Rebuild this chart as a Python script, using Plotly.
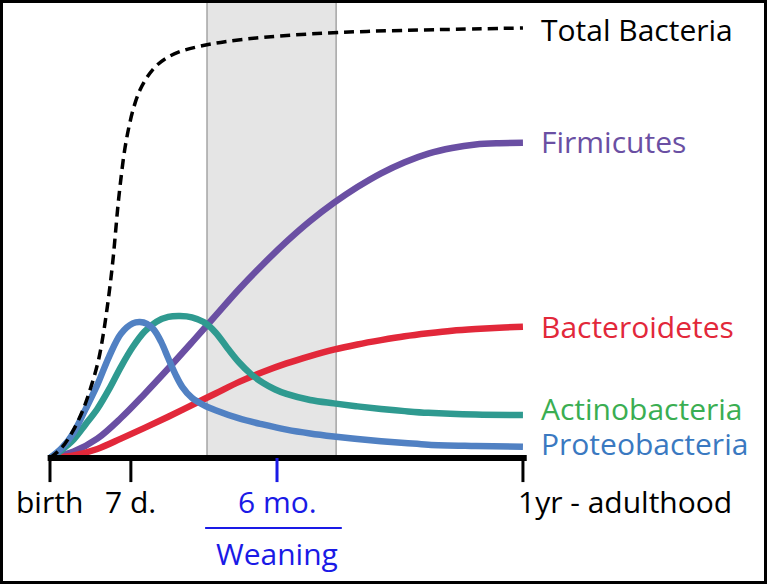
import plotly.graph_objects as go

# time axis: 0 = birth, 100 = 1yr - adulthood ; abundance: relative, total bacteria plateau = 100
time_total = [0, 2.5, 4.7, 6.9, 8.8, 10.3, 11.3, 12.1, 12.8, 13.4, 13.9, 14.4, 15.0, 15.7,
              16.6, 17.7, 19.0, 20.5, 22.3, 24.6, 27.5, 31.5, 37.0, 45.0, 55.0, 67.0, 82.0, 100]
total_bacteria = [0, 2.4, 6.0, 11.0, 17.0, 23.0, 29.0, 35.0, 41.0, 47.0, 53.0, 59.0, 65.0, 71.0,
                  76.5, 81.5, 85.5, 88.5, 91.0, 93.0, 94.5, 95.7, 96.8, 97.8, 98.6, 99.2, 99.6, 100]

time_firm = [0, 5, 10, 15, 20, 25, 30, 35, 40, 45, 50, 55, 60, 65, 70, 75, 80, 85, 90, 95, 100]
firmicutes = [0, 1.5, 4.5, 9.3, 14.9, 20.8, 26.9, 33.1, 39.3, 45.0, 50.3, 55.1, 59.3, 63.0,
              66.2, 68.8, 70.8, 72.1, 72.9, 73.2, 73.3]

time_bact = [0, 5, 10, 15, 20, 25, 30, 35, 40, 45, 50, 55, 60, 65, 70, 75, 80, 85, 90, 95, 100]
bacteroidetes = [0, 0.6, 2.1, 4.5, 7.0, 9.6, 12.3, 15.0, 17.7, 20.0, 22.0, 23.7, 25.2, 26.4,
                 27.4, 28.3, 29.0, 29.6, 30.0, 30.3, 30.5]

time_acti = [0, 2.5, 5, 7.5, 10, 12.5, 15, 17.5, 20, 22.5, 25, 27.5, 30, 32.5, 35, 37.5, 40,
             42.5, 45, 47.5, 50, 55, 60, 65, 70, 75, 80, 90, 100]
actinobacteria = [0, 1.9, 4.3, 7.8, 11.4, 16.0, 21.2, 25.8, 29.4, 31.7, 32.8, 33.0, 32.7, 31.6,
                  29.2, 25.6, 22.2, 19.5, 17.5, 16.0, 14.9, 13.5, 12.7, 12.0, 11.4, 10.9, 10.5,
                  10.1, 10.0]

time_prot = [0, 2.5, 5, 7.5, 10, 12.5, 15, 17.5, 19, 20.5, 22, 23.5, 25, 26.5, 28, 30, 32.5,
             35, 40, 45, 50, 55, 60, 65, 70, 75, 80, 90, 100]
proteobacteria = [0, 2.3, 5.9, 11.3, 17.0, 23.6, 28.9, 31.3, 31.6, 31.2, 29.8, 27.0, 23.2, 19.5,
                  16.5, 14.0, 12.3, 11.1, 9.2, 7.8, 6.6, 5.7, 5.0, 4.4, 3.9, 3.5, 3.1, 2.8, 2.6]

tick_pos = [0, 17.1, 48.0, 100]
tick_labels = ["birth", "7 d.", "6 mo.", "1yr - adulthood"]
weaning = (33.2, 60.5)

FONT = "Open Sans"
BLUE_TXT = "#1a1ae6"
Y_TOP = 106.5

fig = go.Figure()

# shaded weaning window
fig.add_shape(type="rect", x0=weaning[0], x1=weaning[1], y0=0, y1=Y_TOP,
              fillcolor="#e5e5e5", line=dict(color="#a5a5a5", width=1.5), layer="below")

series = [
    (time_firm, firmicutes, "#6a4fa3", "Firmicutes", "#6a4fa3"),
    (time_bact, bacteroidetes, "#e2283a", "Bacteroidetes", "#e2283a"),
    (time_acti, actinobacteria, "#2f9a90", "Actinobacteria", "#3aae52"),
    (time_prot, proteobacteria, "#5181c3", "Proteobacteria", "#3a79c1"),
]
for xs, ys, col, name, _ in series:
    fig.add_trace(go.Scatter(x=xs, y=ys, mode="lines", name=name,
                             line=dict(color=col, width=6.5, shape="spline", smoothing=1)))

fig.add_trace(go.Scatter(x=time_total, y=total_bacteria, mode="lines", name="Total Bacteria",
                         line=dict(color="black", width=3.5, dash="10px,6px",
                                   shape="spline", smoothing=1)))

# baseline and ticks
fig.add_shape(type="line", x0=-0.5, x1=100.8, y0=0, y1=0, line=dict(color="black", width=6))
for pos, lab in zip(tick_pos, tick_labels):
    col = BLUE_TXT if lab == "6 mo." else "black"
    fig.add_shape(type="line", x0=pos, x1=pos, y0=0, y1=-5.6, line=dict(color=col, width=3))
    if lab == "1yr - adulthood":
        fig.add_annotation(x=pos - 1.4, y=-10.2, text=lab, showarrow=False, xanchor="left",
                           font=dict(family=FONT, size=30, color=col))
    else:
        fig.add_annotation(x=pos, y=-10.2, text=lab, showarrow=False, xanchor="center",
                           font=dict(family=FONT, size=30, color=col))

fig.add_shape(type="line", x0=32.8, x1=61.7, y0=-16.3, y1=-16.3, line=dict(color=BLUE_TXT, width=2))
fig.add_annotation(x=48.0, y=-22.1, text="Weaning", showarrow=False,
                   font=dict(family=FONT, size=30, color=BLUE_TXT))

# series labels on the right
label_y = {"Total Bacteria": 99.6, "Firmicutes": 73.5, "Bacteroidetes": 30.5,
           "Actinobacteria": 11.4, "Proteobacteria": 3.3}
fig.add_annotation(x=103.4, y=label_y["Total Bacteria"], text="Total Bacteria", showarrow=False,
                   xanchor="left", font=dict(family=FONT, size=30, color="black"))
for xs, ys, col, name, tcol in series:
    fig.add_annotation(x=103.4, y=label_y[name], text=name, showarrow=False,
                       xanchor="left", font=dict(family=FONT, size=30, color=tcol))

# frame around the figure
fig.add_shape(type="rect", x0=0, x1=1, y0=0, y1=1, xref="paper", yref="paper",
              line=dict(color="black", width=6))

fig.update_xaxes(range=[-10.57, 151.6], visible=False, fixedrange=True)
fig.update_yaxes(range=[-29.3, Y_TOP], visible=False, fixedrange=True)
fig.update_layout(width=767, height=584, margin=dict(l=0, r=0, t=0, b=0),
                  plot_bgcolor="white", paper_bgcolor="white", showlegend=False)

fig.write_html("out.html", config={"displayModeBar": False},
               post_script="document.body.style.margin='0';")
